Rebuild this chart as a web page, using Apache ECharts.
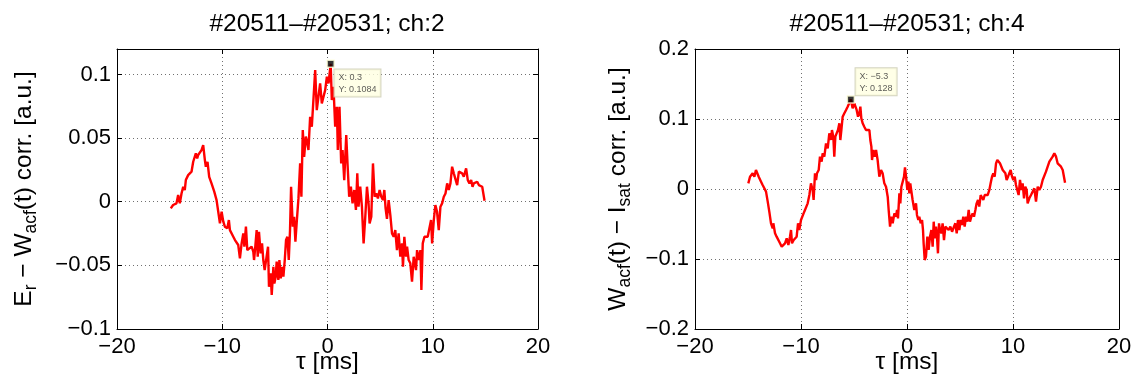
<!DOCTYPE html>
<html><head><meta charset="utf-8">
<script src="https://cdn.jsdelivr.net/npm/echarts@6/dist/echarts.min.js"></script>
<style>html,body{margin:0;padding:0;background:#fff}#c{width:1141px;height:387px}</style>
</head><body><div id="c"></div>
<script>
// ---- data ----
const leftTitle = '#20511\u2013#20531; ch:2';
const rightTitle = '#20511\u2013#20531; ch:4';
const xTicks = [-20, -10, 0, 10, 20];
const leftYTicks = [-0.1, -0.05, 0, 0.05, 0.1];
const rightYTicks = [-0.2, -0.1, 0, 0.1, 0.2];

const leftTau = [-14.89,-14.67,-14.35,-14.19,-14.03,-13.87,-13.71,-13.56,-13.46,-13.24,
-13.08,-12.92,-12.76,-12.60,-12.51,-12.38,-12.29,-12.13,-11.97,-11.81,
-11.65,-11.56,-11.40,-11.24,-11.02,-10.76,-10.54,-10.38,-10.22,-10.06,
-9.90,-9.75,-9.52,-9.37,-9.27,-9.11,-8.95,-8.79,-8.63,-8.48,
-8.32,-8.16,-8.00,-7.90,-7.75,-7.62,-7.43,-7.21,-7.05,-6.98,
-6.86,-6.73,-6.63,-6.51,-6.35,-6.22,-6.10,-5.97,-5.78,-5.65,
-5.56,-5.40,-5.30,-5.14,-5.05,-4.92,-4.83,-4.67,-4.57,-4.44,
-4.32,-4.19,-4.06,-3.94,-3.81,-3.68,-3.56,-3.46,-3.30,-3.17,
-3.05,-2.92,-2.76,-2.60,-2.48,-2.35,-2.22,-2.06,-1.97,-1.81,
-1.65,-1.49,-1.33,-1.17,-1.02,-0.86,-0.70,-0.54,-0.38,-0.22,
-0.06,0.10,0.30,0.41,0.57,0.73,0.89,0.98,1.14,1.30,
1.43,1.59,1.78,1.90,2.06,2.22,2.38,2.54,2.70,2.83,
2.95,3.11,3.27,3.43,3.59,3.75,3.90,4.00,4.16,4.32,
4.48,4.63,4.79,4.95,5.11,5.27,5.40,5.52,5.65,5.81,
5.97,6.13,6.29,6.44,6.60,6.76,6.92,7.08,7.17,7.30,
7.46,7.56,7.71,7.87,8.03,8.19,8.29,8.41,8.51,8.67,
8.83,8.92,9.05,9.21,9.37,9.52,9.71,9.84,9.94,10.10,
10.25,10.41,10.57,10.73,10.89,11.05,11.21,11.37,11.52,11.68,
11.84,12.00,12.16,12.32,12.48,12.63,12.79,12.95,13.17,13.33,
13.49,13.65,13.78,13.90,14.06,14.22,14.38,14.54,14.70,14.92];

const leftCorr = [-0.0052,-0.0026,-0.0013,0.0052,-0.0013,0.0065,0.0118,0.0092,0.0170,0.0209,
0.0196,0.0236,0.0314,0.0301,0.0380,0.0340,0.0367,0.0354,0.0406,0.0445,
0.0327,0.0275,0.0314,0.0196,0.0144,0.0079,0.0013,-0.0079,-0.0170,-0.0079,
-0.0157,-0.0196,-0.0209,-0.0144,-0.0223,-0.0236,-0.0275,-0.0301,-0.0288,-0.0340,
-0.0445,-0.0327,-0.0249,-0.0353,-0.0196,-0.0380,-0.0367,-0.0353,-0.0393,-0.0458,
-0.0353,-0.0223,-0.0432,-0.0236,-0.0406,-0.0327,-0.0458,-0.0537,-0.0524,-0.0353,
-0.0668,-0.0563,-0.0733,-0.0511,-0.0642,-0.0589,-0.0471,-0.0615,-0.0458,-0.0602,
-0.0511,-0.0589,-0.0458,-0.0301,-0.0275,-0.0458,-0.0223,0.0118,-0.0196,-0.0118,
-0.0314,-0.0157,0.0026,0.0301,0.0039,0.0563,0.0353,0.0511,0.0484,0.0406,
0.0668,0.0589,0.0589,0.1034,0.0720,0.0825,0.0930,0.0772,0.0825,0.0877,
0.0982,0.0930,0.1084,0.0799,0.0903,0.0589,0.0746,0.0406,0.0746,0.0301,
0.0406,0.0170,0.0524,0.0301,0.0039,0.0118,-0.0013,0.0092,-0.0065,0.0223,
-0.0039,0.0118,-0.0039,-0.0327,-0.0118,0.0118,-0.0013,-0.0170,-0.0118,0.0301,
0.0039,0.0065,0.0026,0.0092,0.0039,0.0013,0.0092,-0.0052,-0.0134,0.0013,
-0.0105,-0.0249,-0.0275,-0.0223,-0.0380,-0.0249,-0.0432,-0.0327,-0.0511,-0.0275,
-0.0432,-0.0353,-0.0458,-0.0484,-0.0628,-0.0432,-0.0445,-0.0537,-0.0380,-0.0458,
-0.0380,-0.0694,-0.0327,-0.0275,-0.0288,-0.0275,-0.0275,-0.0144,-0.0327,-0.0144,
-0.0026,-0.0079,-0.0223,-0.0039,-0.0013,0.0039,0.0065,0.0144,0.0092,0.0144,
0.0275,0.0223,0.0236,0.0131,0.0236,0.0236,0.0223,0.0196,0.0262,0.0170,
0.0144,0.0170,0.0118,0.0144,0.0131,0.0157,0.0131,0.0139,0.0118,0.0008];

const rightTau = [-14.97,-14.81,-14.65,-14.56,-14.40,-14.25,-14.15,-13.99,-13.77,-13.62,
-13.46,-13.30,-13.14,-12.99,-12.83,-12.67,-12.61,-12.45,-12.30,-12.14,
-11.98,-11.82,-11.67,-11.51,-11.35,-11.19,-11.04,-10.94,-10.85,-10.69,
-10.53,-10.41,-10.28,-10.16,-10.00,-9.84,-9.69,-9.53,-9.37,-9.21,
-9.06,-8.90,-8.81,-8.68,-8.58,-8.49,-8.33,-8.21,-8.05,-7.96,
-7.80,-7.64,-7.48,-7.33,-7.17,-7.08,-6.95,-6.86,-6.76,-6.64,
-6.51,-6.38,-6.29,-6.19,-6.07,-5.91,-5.75,-5.60,-5.44,-5.30,
-5.13,-4.97,-4.87,-4.75,-4.62,-4.50,-4.40,-4.31,-4.18,-4.03,
-3.87,-3.71,-3.55,-3.46,-3.36,-3.30,-3.18,-3.05,-2.92,-2.77,
-2.61,-2.45,-2.30,-2.14,-1.98,-1.82,-1.73,-1.60,-1.48,-1.35,
-1.19,-1.04,-0.94,-0.85,-0.72,-0.63,-0.53,-0.41,-0.28,-0.19,
-0.09,0.03,0.13,0.22,0.31,0.44,0.53,0.69,0.85,0.94,
1.07,1.16,1.29,1.42,1.51,1.57,1.67,1.79,1.92,2.04,
2.17,2.30,2.42,2.52,2.61,2.74,2.83,2.92,3.02,3.11,
3.24,3.36,3.49,3.62,3.77,3.93,4.09,4.25,4.40,4.56,
4.69,4.81,4.94,5.06,5.19,5.31,5.44,5.57,5.69,5.82,
5.94,6.07,6.19,6.32,6.45,6.57,6.70,6.82,6.95,7.08,
7.20,7.33,7.45,7.61,7.77,7.89,8.02,8.14,8.27,8.40,
8.52,8.65,8.77,8.90,9.03,9.15,9.28,9.40,9.53,9.65,
9.78,9.91,10.03,10.16,10.28,10.41,10.53,10.66,10.79,10.91,
11.04,11.16,11.29,11.38,11.54,11.70,11.86,12.01,12.17,12.33,
12.48,12.64,12.80,12.96,13.11,13.27,13.43,13.58,13.74,13.90,
14.06,14.21,14.37,14.53,14.69,14.91];

const rightCorr = [0.0081,0.0176,0.0152,0.0224,0.0176,0.0271,0.0295,0.0176,0.0105,0.0057,
0.0010,-0.0038,-0.0181,-0.0324,-0.0490,-0.0562,-0.0490,-0.0633,-0.0681,-0.0705,
-0.0776,-0.0824,-0.0800,-0.0776,-0.0705,-0.0800,-0.0681,-0.0586,-0.0776,-0.0729,
-0.0752,-0.0681,-0.0490,-0.0586,-0.0443,-0.0419,-0.0324,-0.0300,-0.0205,-0.0086,
0.0081,-0.0014,-0.0157,0.0224,0.0129,0.0224,0.0271,0.0462,0.0390,0.0510,
0.0462,0.0652,0.0581,0.0795,0.0700,0.0843,0.0748,0.0462,0.0748,0.0795,
0.0843,0.0938,0.0700,0.0843,0.1033,0.1081,0.1129,0.1176,0.1200,0.1280,
0.1152,0.1224,0.1248,0.1129,0.1033,0.1081,0.1176,0.1010,0.0938,0.0890,
0.0843,0.0867,0.0843,0.0700,0.0605,0.0414,0.0557,0.0462,0.0557,0.0414,
0.0176,0.0271,0.0224,0.0081,0.0033,-0.0110,-0.0300,-0.0538,-0.0395,-0.0490,
-0.0348,-0.0395,-0.0300,-0.0419,-0.0062,-0.0205,0.0033,0.0033,0.0176,0.0310,
0.0176,-0.0014,0.0105,-0.0062,0.0081,-0.0062,-0.0157,-0.0300,-0.0205,-0.0371,
-0.0443,-0.0395,-0.0490,-0.0443,-0.0586,-0.0776,-0.1014,-0.0967,-0.0681,-0.0871,
-0.0681,-0.0586,-0.0824,-0.0467,-0.0705,-0.0538,-0.0681,-0.0919,-0.0490,-0.0586,
-0.0633,-0.0490,-0.0729,-0.0538,-0.0562,-0.0586,-0.0538,-0.0610,-0.0586,-0.0490,
-0.0633,-0.0443,-0.0586,-0.0443,-0.0514,-0.0395,-0.0538,-0.0395,-0.0467,-0.0300,
-0.0467,-0.0395,-0.0348,-0.0395,-0.0300,-0.0205,-0.0157,-0.0252,-0.0086,-0.0110,
-0.0157,-0.0086,-0.0110,-0.0086,-0.0014,0.0081,0.0176,0.0224,0.0176,0.0367,
0.0414,0.0390,0.0367,0.0343,0.0271,0.0271,0.0224,0.0129,0.0176,0.0224,
0.0271,0.0176,0.0129,0.0176,0.0057,0.0081,-0.0086,0.0129,-0.0014,0.0081,
-0.0133,0.0033,-0.0014,-0.0205,-0.0133,-0.0086,-0.0062,0.0010,-0.0181,0.0033,
-0.0014,0.0033,0.0129,0.0105,0.0248,0.0271,0.0390,0.0414,0.0462,0.0510,
0.0462,0.0367,0.0390,0.0319,0.0271,0.0090];

const leftTip = [0.3, 0.1084];
const rightTip = [-5.3, 0.128];

// ---- chart ----
const FONT = '"Liberation Sans", Arial, Helvetica, sans-serif';
const chart = echarts.init(document.getElementById('c'), null, {renderer: 'canvas'});
const fmt = v => String(+(+v).toFixed(4)).replace('-', '\u2212');
const pairs = (xs, ys) => xs.map((x, i) => [x, ys[i]]);
const gridLine = {show: true, lineStyle: {color: '#707070', type: [1, 3], width: 1}};
const tickStyle = {show: true, inside: true, length: 5, lineStyle: {color: '#000', width: 1}};
const lineStyleAxis = {show: true, onZero: false, lineStyle: {color: '#000', width: 1}};

function mainX(gi) {
  return {type: 'value', gridIndex: gi, position: 'bottom',
    min: xTicks[0], max: xTicks[xTicks.length - 1], interval: xTicks[1] - xTicks[0],
    name: '\u03c4 [ms]', nameLocation: 'middle', nameGap: 21, nameMoveOverlap: false,
    nameTextStyle: {fontFamily: FONT, fontSize: 24.5, color: '#000'},
    axisLine: lineStyleAxis, axisTick: tickStyle,
    axisLabel: {fontFamily: FONT, fontSize: 22, color: '#000', margin: 7, formatter: fmt, hideOverlap: false},
    splitLine: gridLine};
}
function mirrorX(gi) {
  return {type: 'value', gridIndex: gi, position: 'top',
    min: xTicks[0], max: xTicks[xTicks.length - 1], interval: xTicks[1] - xTicks[0],
    axisLine: lineStyleAxis, axisTick: tickStyle, axisLabel: {show: false}, splitLine: {show: false}};
}
function mainY(gi, ticks, max, name, rich, gap) {
  return {type: 'value', gridIndex: gi, position: 'left',
    min: ticks[0], max: max, interval: ticks[1] - ticks[0],
    name: name, nameLocation: 'middle', nameGap: gap, nameMoveOverlap: false,
    nameTextStyle: {fontFamily: FONT, fontSize: 24.5, color: '#000', rich: rich},
    axisLine: lineStyleAxis, axisTick: tickStyle,
    axisLabel: {fontFamily: FONT, fontSize: 22, color: '#000', margin: 6, formatter: fmt,
      showMaxLabel: max === ticks[ticks.length - 1], hideOverlap: false},
    splitLine: gridLine};
}
function mirrorY(gi, ticks, max) {
  return {type: 'value', gridIndex: gi, position: 'right',
    min: ticks[0], max: max, interval: ticks[1] - ticks[0],
    axisLine: lineStyleAxis, axisTick: tickStyle, axisLabel: {show: false}, splitLine: {show: false}};
}
const rich = {
  m: {fontFamily: FONT, fontSize: 24.5, lineHeight: 32, color: '#000'},
  s: {fontFamily: FONT, fontSize: 17.5, lineHeight: 17, verticalAlign: 'bottom', color: '#000'}
};
function tipSeries(xi, yi, tip, pos) {
  return {type: 'scatter', xAxisIndex: xi, yAxisIndex: yi, z: 10, silent: true,
    data: [tip], symbol: 'rect', symbolSize: 7,
    itemStyle: {color: '#000', borderColor: '#ffffd8', borderWidth: 1.5},
    label: {show: true, position: pos, align: 'left', verticalAlign: 'top',
      formatter: 'X: ' + fmt(tip[0]) + '\nY: ' + fmt(tip[1]),
      fontFamily: FONT, fontSize: 9, lineHeight: 12, color: '#333',
      backgroundColor: '#ffffe1', borderColor: '#c9c9b0', borderWidth: 1, padding: [2, 4, 1, 4]}};
}

chart.setOption({
  animation: false,
  backgroundColor: '#fff',
  graphic: [
    {type: 'text', x: 327, y: 24, style: {text: leftTitle, fontFamily: FONT, fontSize: 24.5, fill: '#000', align: 'center', verticalAlign: 'middle'}},
    {type: 'text', x: 907, y: 24, style: {text: rightTitle, fontFamily: FONT, fontSize: 24.5, fill: '#000', align: 'center', verticalAlign: 'middle'}}
  ],
  grid: [
    {left: 117, top: 49, width: 421, height: 280, containLabel: false},
    {left: 695, top: 49, width: 424, height: 280, containLabel: false}
  ],
  xAxis: [mainX(0), mirrorX(0), mainX(1), mirrorX(1)],
  yAxis: [
    mainY(0, leftYTicks, 0.12, '{m|E}{s|r}{m| \u2212 W}{s|acf}{m|(t) corr. [a.u.]}', rich, 77),
    mirrorY(0, leftYTicks, 0.12),
    mainY(1, rightYTicks, 0.2, '{m|W}{s|acf}{m|(t) \u2212 I}{s|sat}{m| corr. [a.u.]}', rich, 61),
    mirrorY(1, rightYTicks, 0.2)
  ],
  series: [
    {type: 'line', xAxisIndex: 0, yAxisIndex: 0, data: pairs(leftTau, leftCorr), showSymbol: false,
      lineStyle: {color: '#ff0000', width: 2.4}, itemStyle: {color: '#ff0000'}},
    {type: 'line', xAxisIndex: 2, yAxisIndex: 2, data: pairs(rightTau, rightCorr), showSymbol: false,
      lineStyle: {color: '#ff0000', width: 2.4}, itemStyle: {color: '#ff0000'}},
    tipSeries(0, 0, leftTip, [8, 10]),
    tipSeries(2, 2, rightTip, [9, -27])
  ]
});
</script>
</body></html>
